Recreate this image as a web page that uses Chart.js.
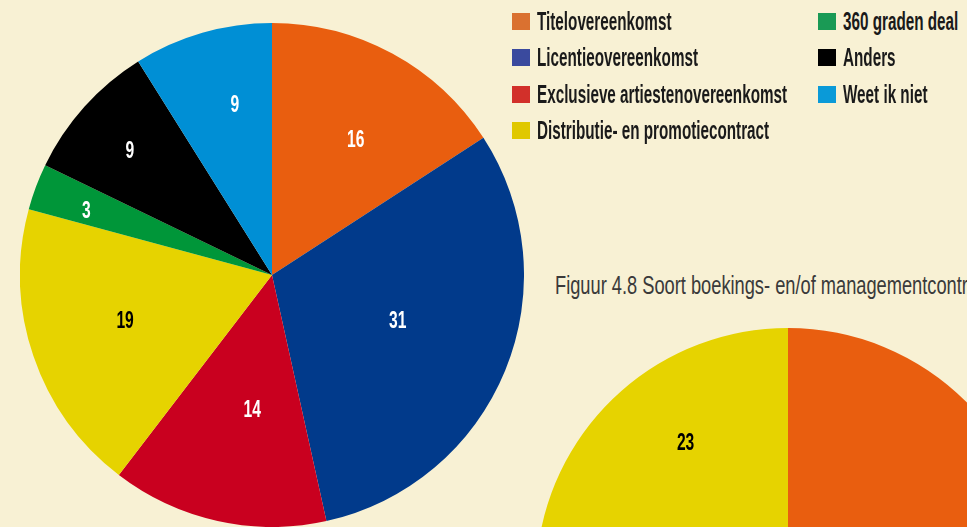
<!DOCTYPE html>
<html>
<head>
<meta charset="utf-8">
<script src="https://cdn.jsdelivr.net/npm/chart.js@4/dist/chart.umd.min.js"></script>
<style>
  body { margin: 0; width: 967px; height: 527px; overflow: hidden; background: #f8f1d4; position: relative; }
  #pie1 { position: absolute; left: 20px; top: 23px; }
  #pie2 { position: absolute; left: 536px; top: 328px; }
  .item { position: absolute; height: 18px; white-space: nowrap; }
  .box { position: absolute; left: 0; top: 0; width: 18px; height: 17px; }
  .txt { position: absolute; left: 25px; top: -6px; font: bold 25px "Liberation Sans Narrow", sans-serif; color: #1a1a1a;
         transform: scaleX(0.61); transform-origin: left center; }
  #title2 { position: absolute; left: 555px; top: 271px; font: 25px "Liberation Sans Narrow", sans-serif; color: #3a3a3a;
            white-space: nowrap; transform: scaleX(0.73); transform-origin: left center; }
</style>
</head>
<body>
<canvas id="pie1" width="504" height="504"></canvas>
<canvas id="pie2" width="504" height="504"></canvas>
<div id="title2">Figuur 4.8 Soort boekings- en/of managementcontracten</div>
<div id="legend"></div>
<script>
// DATA
const categories = ['Titelovereenkomst', 'Licentieovereenkomst', 'Exclusieve artiestenovereenkomst',
  'Distributie- en promotiecontract', '360 graden deal', 'Anders', 'Weet ik niet'];
const values = [16, 31, 14, 19, 3, 9, 9];

// tweede figuur, alleen het zichtbare stuk: oranje waarde is niet af te lezen (schatting)
const categories2 = ['Titelovereenkomst', 'Distributie- en promotiecontract'];
const values2 = [77, 23];

const sliceColors = ['#e95e0f', '#013a8b', '#c9001f', '#e6d300', '#009639', '#000000', '#008fd5'];
const legendColors = ['#da7130', '#3a4a9e', '#d2302a', '#e0c800', '#1a9a55', '#000000', '#0a9ad8'];
const labelColors = ['#fff', '#fff', '#fff', '#000', '#fff', '#fff', '#fff'];

// labels inside the slices
const sliceLabels = {
  id: 'sliceLabels',
  afterDatasetsDraw(chart, args, opts) {
    const ctx = chart.ctx;
    const arcs = chart.getDatasetMeta(0).data;
    const vals = chart.data.datasets[0].data;
    ctx.save();
    ctx.font = 'bold 23px "Liberation Sans Narrow", sans-serif';
    ctx.textAlign = 'center';
    ctx.textBaseline = 'middle';
    arcs.forEach((arc, i) => {
      if (opts.hide && opts.hide[i]) return;
      const mid = (arc.startAngle + arc.endAngle) / 2 + (opts.shift[i] || 0) * Math.PI / 180;
      const r = arc.outerRadius * opts.radius[i];
      const x = arc.x + Math.cos(mid) * r;
      const y = arc.y + Math.sin(mid) * r;
      ctx.save();
      ctx.translate(x, y);
      ctx.scale(0.68, 1);
      ctx.fillStyle = opts.colors[i];
      ctx.fillText(String(vals[i]), 0, 1);
      ctx.restore();
    });
    ctx.restore();
  }
};

const commonOptions = {
  responsive: false,
  animation: false,
  layout: { padding: 0 },
  plugins: { legend: { display: false }, tooltip: { enabled: false } }
};

new Chart(document.getElementById('pie1'), {
  type: 'pie',
  data: {
    labels: categories,
    datasets: [{ data: values, backgroundColor: sliceColors, borderWidth: 0 }]
  },
  options: {
    ...commonOptions,
    plugins: {
      ...commonOptions.plugins,
      sliceLabels: {
        radius: [0.63, 0.53, 0.54, 0.61, 0.78, 0.75, 0.69],
        shift: [3.3, -2.5, -4.1, 1.6, -1.4, -0.7, 3.7],
        colors: labelColors
      }
    }
  },
  plugins: [sliceLabels]
});

new Chart(document.getElementById('pie2'), {
  type: 'pie',
  data: {
    labels: categories2,
    datasets: [{ data: values2, backgroundColor: [sliceColors[0], sliceColors[3]], borderWidth: 0 }]
  },
  options: {
    ...commonOptions,
    plugins: {
      ...commonOptions.plugins,
      sliceLabels: { radius: [0.6, 0.68], shift: [0, 4.7], colors: ['#fff', '#000'], hide: [true, false] }
    }
  },
  plugins: [sliceLabels]
});

// legend, two columns
const legend = document.getElementById('legend');
const colX = [512, 818];
const rowY = [13, 49, 86, 122];
categories.forEach((name, i) => {
  const col = i < 4 ? 0 : 1;
  const row = i < 4 ? i : i - 4;
  const item = document.createElement('div');
  item.className = 'item';
  item.style.left = colX[col] + 'px';
  item.style.top = rowY[row] + 'px';
  item.innerHTML = '<div class="box" style="background:' + legendColors[i] + '"></div><div class="txt">' + name + '</div>';
  legend.appendChild(item);
});
</script>
</body>
</html>
